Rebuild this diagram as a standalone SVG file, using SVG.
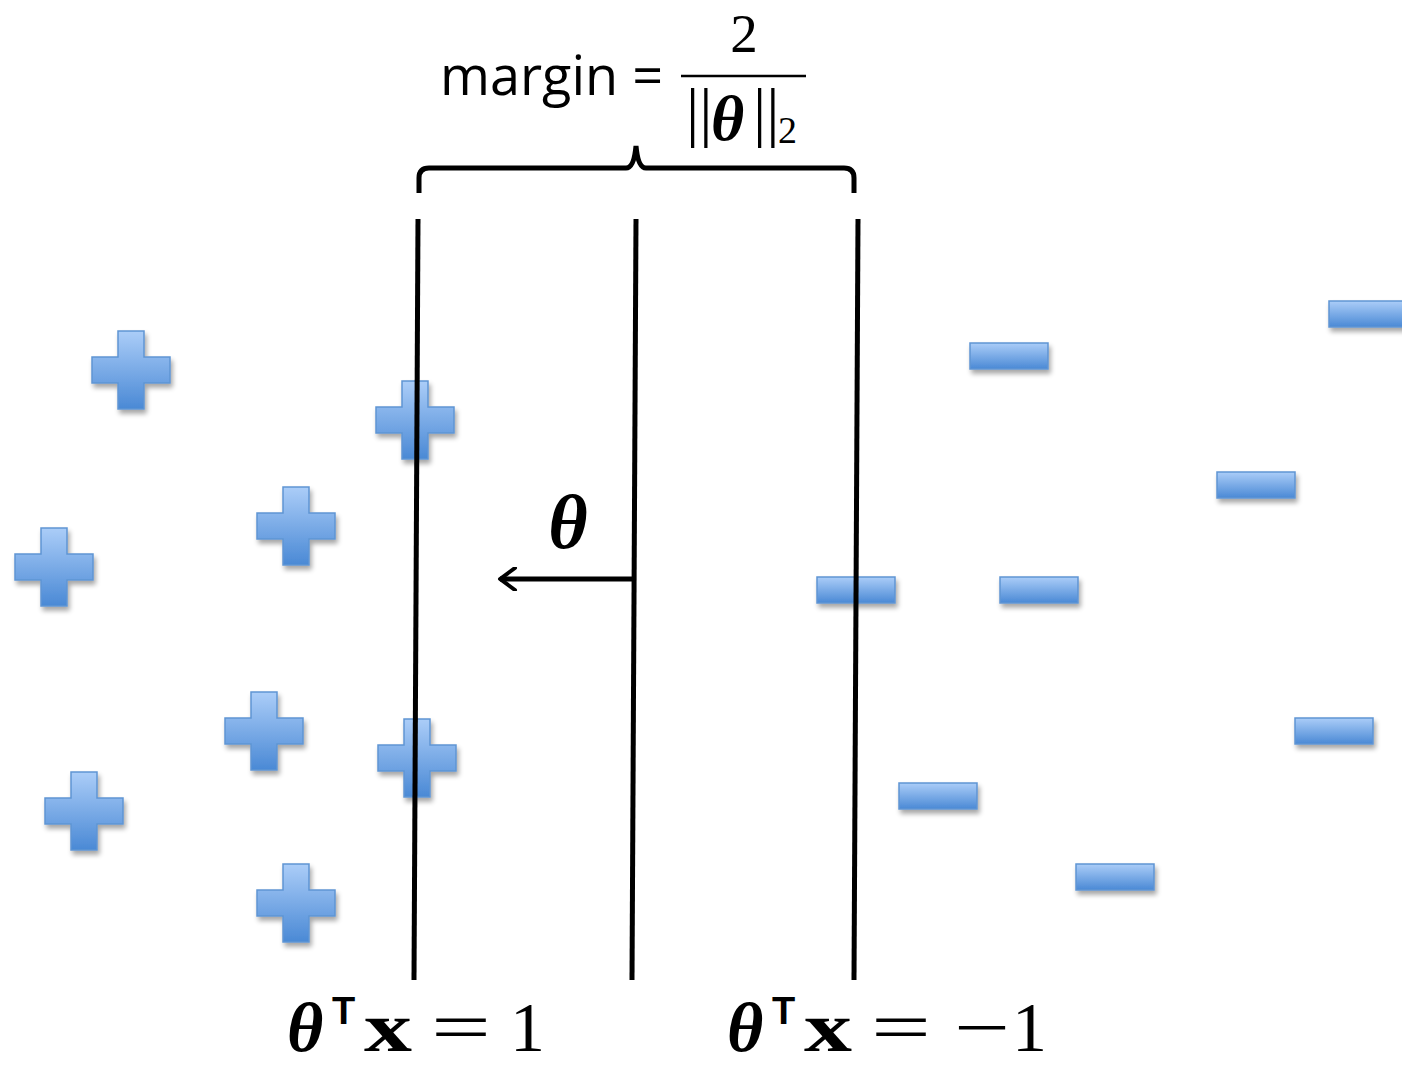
<svg xmlns="http://www.w3.org/2000/svg" width="1402" height="1067" viewBox="0 0 1402 1067">
<defs>
<linearGradient id="g" x1="0" y1="0" x2="0" y2="1">
<stop offset="0" stop-color="#abcdf8"/>
<stop offset="1" stop-color="#4a89d5"/>
</linearGradient>
<filter id="sh" x="-20%" y="-20%" width="150%" height="160%">
<feGaussianBlur in="SourceAlpha" stdDeviation="2.5"/>
<feOffset dx="2" dy="4" result="b"/>
<feComponentTransfer><feFuncA type="linear" slope="0.35"/></feComponentTransfer>
<feMerge><feMergeNode/><feMergeNode in="SourceGraphic"/></feMerge>
</filter>
<path id="plus" d="M-13,-39 H13 V-13 H39 V13 H13 V39 H-13 V13 H-39 V-13 H-13 Z"/>
<rect id="minus" x="-39" y="-13" width="78" height="26"/>
<marker id="ah" viewBox="0 0 24 24" refX="20" refY="12" markerWidth="24" markerHeight="24" markerUnits="userSpaceOnUse" orient="auto">
<path d="M5,1 L20,12 L5,23" fill="none" stroke="#000" stroke-width="4" stroke-linecap="round" stroke-linejoin="round"/>
</marker>
</defs>
<style>
.pt{fill:url(#g);stroke:#5f95d3;stroke-width:1.5;filter:url(#sh)}
.ln{stroke:#000;stroke-width:5;fill:none}
.math{font-family:"Liberation Serif","DejaVu Serif",serif}
.sans{font-family:"Open Sans","Liberation Sans",sans-serif}
.bi{font-weight:bold;font-style:italic}
.b{font-weight:bold}
.tp{font-family:"Liberation Sans","DejaVu Sans",sans-serif;font-weight:bold;font-style:normal}
</style>
<rect width="1402" height="1067" fill="#fff"/>

<g id="positives">
<use href="#plus" class="pt" x="131" y="370"/>
<use href="#plus" class="pt" x="415" y="420"/>
<use href="#plus" class="pt" x="296" y="526"/>
<use href="#plus" class="pt" x="54" y="567"/>
<use href="#plus" class="pt" x="264" y="731"/>
<use href="#plus" class="pt" x="417" y="758"/>
<use href="#plus" class="pt" x="84" y="811"/>
<use href="#plus" class="pt" x="296" y="903"/>
</g>
<g id="negatives">
<use href="#minus" class="pt" x="1009" y="356"/>
<use href="#minus" class="pt" x="1368" y="314"/>
<use href="#minus" class="pt" x="1256" y="485"/>
<use href="#minus" class="pt" x="856" y="590"/>
<use href="#minus" class="pt" x="1039" y="590"/>
<use href="#minus" class="pt" x="1334" y="731"/>
<use href="#minus" class="pt" x="938" y="796"/>
<use href="#minus" class="pt" x="1115" y="877"/>
</g>

<g id="connectors">
<line id="plane-pos" class="ln" x1="418" y1="219" x2="414" y2="980"/>
<line id="plane-mid" class="ln" x1="636" y1="219" x2="632" y2="980"/>
<line id="plane-neg" class="ln" x1="858" y1="219" x2="854" y2="980"/>
<line id="theta-arrow" class="ln" stroke-width="4" x1="633" y1="579" x2="500" y2="579" marker-end="url(#ah)"/>
<path id="brace" class="ln" stroke-width="4.5" d="M419,193 V178 Q419,168 429,168 H626 Q634,168 636,146 Q638,168 646,168 H844 Q854,168 854,178 V193"/>
</g>

<g id="theta-label">
<text class="math bi" x="568" y="548" font-size="76" text-anchor="middle">θ</text>
</g>

<g id="margin-label">
<text class="sans" x="440" y="95" font-size="54">margin =</text>
<text class="math" x="744" y="52" font-size="55" text-anchor="middle">2</text>
<line x1="681" y1="76" x2="806" y2="76" stroke="#000" stroke-width="2.5"/>
<text class="math" x="686" y="134" font-size="66">||</text>
<text class="math bi" x="711" y="140" font-size="64">θ</text>
<text class="math" x="753" y="134" font-size="66">||</text>
<text class="math" x="778" y="143" font-size="38">2</text>
</g>

<g id="label-pos" class="math" font-size="70">
<text class="tp" x="332" y="1024" font-size="38">T</text>
<text class="bi" x="287" y="1051">θ</text>
<text class="b" x="364" y="1051" textLength="48" lengthAdjust="spacingAndGlyphs">x</text>
<text x="431" y="1051" textLength="60" lengthAdjust="spacingAndGlyphs">=</text>
<text x="510" y="1051">1</text>
</g>
<g id="label-neg" class="math" font-size="70">
<text class="tp" x="772" y="1024" font-size="38">T</text>
<text class="bi" x="727" y="1051">θ</text>
<text class="b" x="804" y="1051" textLength="48" lengthAdjust="spacingAndGlyphs">x</text>
<text x="871" y="1051" textLength="60" lengthAdjust="spacingAndGlyphs">=</text>
<text x="954" y="1051" textLength="56" lengthAdjust="spacingAndGlyphs">−</text>
<text x="1012" y="1051">1</text>
</g>
</svg>
